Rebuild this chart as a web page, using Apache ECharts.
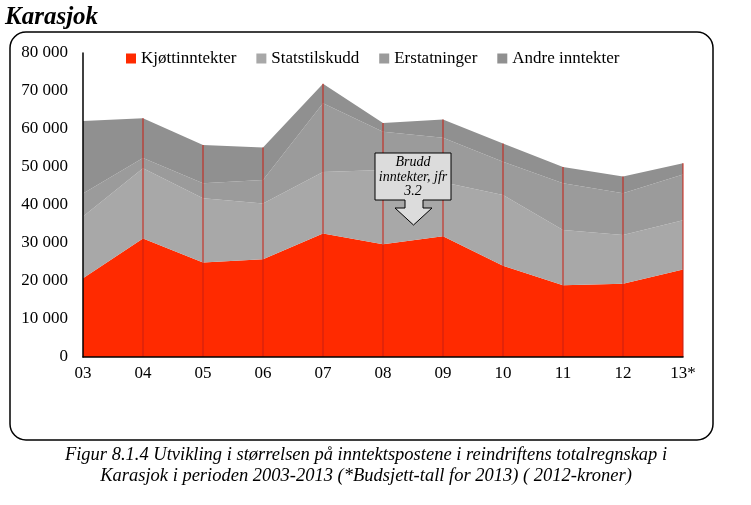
<!DOCTYPE html>
<html><head><meta charset="utf-8">
<script src="https://cdn.jsdelivr.net/npm/echarts@6/dist/echarts.min.js"></script>
<style>html,body{margin:0;padding:0;background:#fff}#c{width:751px;height:505px}</style>
</head><body><div id="c"></div>
<script>
const categories = ['03','04','05','06','07','08','09','10','11','12','13*'];
const kjott = [20700, 31200, 24900, 25700, 32500, 29700, 31800, 24000, 18900, 19300, 23000];
const statstilskudd = [16300, 18500, 16900, 14700, 16200, 19500, 14200, 18600, 14500, 12800, 13000];
const erstatninger = [6000, 2700, 3900, 6200, 18100, 10100, 11700, 8800, 12300, 11000, 12000];
const andre = [19100, 10400, 10100, 8500, 5100, 2300, 4800, 4800, 4300, 4400, 3000];
const seriesNames = ['Kjøttinntekter','Statstilskudd','Erstatninger','Andre inntekter'];
const yTicks = {min: 0, max: 80000, interval: 10000};

const serif = '"Liberation Serif", "DejaVu Serif", serif';
// drop lines: from the top of the stack down to the axis (skipped at first category, which sits on the y axis)
const dropValues = categories.map((c, i) => i === 0 ? '-' : kjott[i] + statstilskudd[i] + erstatninger[i] + andre[i]);

const colors = ['#ff2a00', '#a8a8a8', '#9b9b9b', '#909090'];
const datas = [kjott, statstilskudd, erstatninger, andre];

const series = datas.map((d, i) => ({
  name: seriesNames[i],
  type: 'line',
  stack: 'total',
  data: d,
  symbol: 'none',
  lineStyle: {width: 0},
  areaStyle: {color: colors[i], opacity: 1},
  itemStyle: {color: colors[i]},
  z: 2
}));
series.push({
  name: 'drop',
  type: 'bar',
  data: dropValues,
  barWidth: 1,
  silent: true,
  itemStyle: {color: '#c81e12'},
  z: 5
});

const chart = echarts.init(document.getElementById('c'), null, {renderer: 'canvas'});
chart.setOption({
  animation: false,
  backgroundColor: '#fff',
  grid: {left: 83, right: 68, top: 53, bottom: 148},
  legend: {
    data: seriesNames,
    left: 121, top: 45,
    itemWidth: 10, itemHeight: 10, itemGap: 20,
    icon: 'rect',
    textStyle: {fontFamily: serif, fontSize: 17, color: '#000'}
  },
  xAxis: {
    type: 'category',
    data: categories,
    boundaryGap: false,
    axisLine: {lineStyle: {color: '#000', width: 1.5}},
    axisTick: {show: false},
    axisLabel: {fontFamily: serif, fontSize: 17, color: '#000', margin: 8},
    z: 6
  },
  yAxis: {
    type: 'value',
    min: yTicks.min, max: yTicks.max, interval: yTicks.interval,
    axisLine: {show: true, lineStyle: {color: '#000', width: 1.5}},
    axisTick: {show: false},
    splitLine: {show: false},
    axisLabel: {
      fontFamily: serif, fontSize: 17, color: '#000', margin: 15,
      formatter: v => String(v).replace(/\B(?=(\d{3})+(?!\d))/g, ' ')
    },
    z: 6
  },
  series: series,
  graphic: [
    {type: 'text', left: 5, top: 5, style: {text: 'Karasjok', font: 'italic bold 25px ' + serif, fill: '#000'}},
    {type: 'rect', shape: {x: 10, y: 32, width: 703, height: 408, r: 16}, style: {fill: 'none', stroke: '#000', lineWidth: 1.5}, z: -1},
    {type: 'polygon', z: 10,
      shape: {points: [[375,153],[451,153],[451,200],[423,200],[423,208],[432,208],[413.5,225],[395,208],[405,208],[405,200],[375,200]]},
      style: {fill: '#dcdcdc', stroke: '#000', lineWidth: 1}},
    {type: 'text', z: 11, x: 413, y: 177, style: {text: 'Brudd\ninntekter, jfr\n3.2', font: 'italic 14px ' + serif, fill: '#000', align: 'center', verticalAlign: 'middle', lineHeight: 14.5}},
    {type: 'text', x: 366, y: 466, style: {text: 'Figur 8.1.4 Utvikling i størrelsen på inntektspostene i reindriftens totalregnskap i\nKarasjok i perioden 2003-2013 (*Budsjett-tall for 2013) ( 2012-kroner)', font: 'italic 18.5px ' + serif, fill: '#000', align: 'center', verticalAlign: 'middle', lineHeight: 21}}
  ]
});
</script></body></html>
